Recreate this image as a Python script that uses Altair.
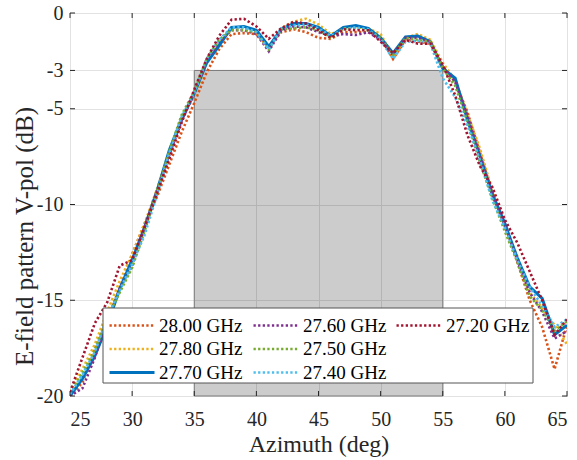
import altair as alt
import pandas as pd

# Azimuth sample points (deg)
azimuth = list(range(25, 66))

# E-field pattern V-pol (dB) per frequency, one value per degree 25..65
gain_2800 = [-20.0, -19.3, -17.5, -16.0, -14.4, -12.6, -11.0, -9.6, -7.9, -6.2, -4.7,
             -3.1, -1.9, -1.1, -1.05, -1.1, -1.8, -1.0, -0.85, -1.0, -1.3,
             -1.35, -1.0, -1.0, -1.0, -1.3, -2.4, -1.4, -1.5, -1.6, -2.8,
             -3.6, -5.2, -7.3, -9.4, -11.0, -13.0, -15.0, -16.4, -18.6, -16.3]
gain_2780 = [-19.8, -18.6, -17.3, -15.6, -14.0, -12.6, -11.0, -9.2, -7.3, -5.4, -4.4,
             -2.6, -1.6, -0.8, -0.75, -1.0, -1.9, -0.8, -0.45, -0.3, -0.6,
             -1.1, -0.85, -0.75, -0.8, -1.1, -2.3, -1.3, -1.1, -1.4, -2.6,
             -3.5, -5.3, -7.1, -9.3, -11.2, -12.7, -14.6, -15.4, -16.3, -17.3]
gain_2770 = [-20.0, -19.1, -17.9, -16.3, -14.4, -12.9, -11.2, -9.3, -7.15, -5.5, -4.2,
             -2.6, -1.7, -0.75, -0.7, -0.9, -1.75, -0.85, -0.55, -0.55, -0.75,
             -1.2, -0.75, -0.65, -0.8, -1.3, -2.1, -1.25, -1.2, -1.5, -2.9,
             -3.4, -5.6, -7.5, -9.5, -11.0, -12.8, -14.3, -14.9, -16.8, -16.3]
gain_2760 = [-20.0, -19.6, -18.0, -16.0, -14.4, -13.2, -11.2, -9.3, -7.4, -5.6, -4.2,
             -2.5, -1.5, -0.9, -0.9, -1.1, -2.0, -0.9, -0.7, -0.75, -1.0,
             -1.2, -1.1, -1.15, -1.0, -1.4, -2.2, -1.3, -1.3, -1.5, -2.8,
             -3.6, -5.4, -7.5, -9.5, -11.1, -12.9, -14.6, -15.6, -17.0, -16.6]
gain_2750 = [-19.8, -18.8, -17.6, -15.9, -14.6, -13.3, -11.4, -9.3, -7.2, -5.3, -4.1,
             -2.4, -1.4, -0.9, -0.9, -1.0, -1.9, -0.85, -0.8, -0.75, -0.9,
             -1.3, -0.8, -0.8, -0.9, -1.3, -2.2, -1.3, -1.4, -1.5, -2.9,
             -3.8, -5.7, -7.8, -9.7, -11.4, -13.0, -14.8, -15.5, -16.6, -16.1]
gain_2740 = [-19.9, -18.9, -17.7, -15.9, -14.5, -13.1, -11.6, -9.5, -7.3, -5.4, -4.2,
             -2.4, -1.4, -0.75, -0.75, -1.0, -1.9, -0.8, -0.65, -0.6, -0.8,
             -1.2, -0.85, -0.75, -0.85, -1.4, -2.4, -1.5, -1.45, -1.6, -3.4,
             -4.4, -5.9, -7.7, -9.8, -11.2, -12.9, -14.3, -15.3, -16.4, -16.0]
gain_2720 = [-19.8, -18.0, -16.2, -15.1, -13.2, -12.9, -11.2, -9.4, -7.6, -5.7, -4.0,
             -2.4, -1.2, -0.35, -0.3, -0.7, -1.35, -0.8, -0.45, -0.55, -0.9,
             -1.3, -0.85, -0.9, -0.9, -1.5, -2.1, -1.4, -1.6, -1.6, -2.7,
             -4.3, -6.4, -8.0, -9.1, -10.8, -12.0, -13.5, -15.0, -16.8, -16.0]

freq_labels = ["28.00 GHz", "27.80 GHz", "27.70 GHz", "27.60 GHz",
               "27.50 GHz", "27.40 GHz", "27.20 GHz"]
series = [gain_2800, gain_2780, gain_2770, gain_2760, gain_2750, gain_2740, gain_2720]
colors = ["#D95319", "#EDB120", "#0072BD", "#7E2F8E", "#77AC30", "#4DBEEE", "#A2142F"]
solid = [False, False, True, False, False, False, False]

# Highlighted sector: azimuth 35..55 deg, level -20..-3 dB
band_x = [35, 55]
band_y = [-20, -3]

x_ticks = [25, 30, 35, 40, 45, 50, 55, 60, 65]
y_ticks = [0, -3, -5, -10, -15, -20]

rows = []
for name, vals in zip(freq_labels, series):
    for az, v in zip(azimuth, vals):
        rows.append({"az": az, "db": v, "freq": name})
df = pd.DataFrame(rows)

FONT = "Liberation Serif"
INK = "#262626"
W, H = 497, 383
DOT = [2.3, 2.3]
SYM = 45  # legend line-sample length in px

x_scale = alt.Scale(domain=[25, 65], nice=False, zero=False)
y_scale = alt.Scale(domain=[-20, 0], nice=False, zero=False)

x_axis = alt.Axis(values=x_ticks, title="Azimuth (deg)", tickSize=0, domain=False,
                  grid=True, gridColor="#e2e2e2", labelFont=FONT, labelFontSize=20,
                  labelColor=INK, labelPadding=13, titleFont=FONT, titleFontSize=24,
                  titleFontWeight="normal", titleColor=INK, titleY=55,
                  titleBaseline="alphabetic")
y_axis = alt.Axis(values=y_ticks, title="E-field pattern V-pol (dB)", tickSize=0,
                  domain=False, grid=True, gridColor="#e2e2e2", labelFont=FONT,
                  labelFontSize=20, labelColor=INK, labelPadding=7,
                  labelExpr="'' + datum.value", titleFont=FONT, titleFontSize=25,
                  titleFontWeight="normal", titleColor=INK, titleX=-38, titleY=223,
                  titleBaseline="alphabetic")

X = alt.X("az:Q", scale=x_scale, axis=x_axis)
Y = alt.Y("db:Q", scale=y_scale, axis=y_axis)

band = alt.Chart(pd.DataFrame({"x0": [band_x[0]], "x1": [band_x[1]],
                               "y0": [band_y[0]], "y1": [band_y[1]]})).mark_rect(
    fill="#000000", fillOpacity=0.2, stroke="#7a7a7a", strokeWidth=1
).encode(
    x=alt.X("x0:Q", scale=x_scale, axis=x_axis), x2="x1:Q",
    y=alt.Y("y0:Q", scale=y_scale, axis=y_axis), y2="y1:Q",
)

# Legend grid: three columns filled top-to-bottom
leg_cols = [38, 182, 325]
leg_rows = [311, 334.5, 358]


def series_layer(i):
    name = freq_labels[i]
    col, row = divmod(i, 3)
    width = 3.0 if solid[i] else 2.6
    leg = dict(orient="none", legendX=leg_cols[col], legendY=leg_rows[row] - SYM / 2,
               title=None, symbolType="stroke", symbolStrokeWidth=width,
               symbolSize=SYM * SYM, symbolOffset=0, labelFont=FONT, labelFontSize=19,
               labelColor="#000000", labelOffset=3, padding=0)
    mark = dict(strokeWidth=width, clip=True, strokeCap="butt")
    if not solid[i]:
        leg["symbolDash"] = DOT
        mark["strokeDash"] = DOT
    return alt.Chart(df[df["freq"] == name]).mark_line(**mark).encode(
        x=X, y=Y,
        color=alt.Color("freq:N",
                        scale=alt.Scale(domain=[name], range=[colors[i]]),
                        legend=alt.Legend(**leg)),
    )


line_layers = [series_layer(i) for i in range(len(freq_labels))]

legend_box = alt.Chart(pd.DataFrame({"k": [0]})).mark_rect(
    fill="white", stroke="#555555", strokeWidth=1
).encode(x=alt.value(33), x2=alt.value(463), y=alt.value(295), y2=alt.value(370))

# Inward tick marks on all four sides of the frame
xt = pd.DataFrame({"v": x_ticks})
yt = pd.DataFrame({"v": y_ticks})
tick_bottom = alt.Chart(xt).mark_rule(color=INK, strokeWidth=1).encode(
    x=alt.X("v:Q", scale=x_scale, axis=x_axis), y=alt.value(H - 5), y2=alt.value(H))
tick_top = alt.Chart(xt).mark_rule(color=INK, strokeWidth=1).encode(
    x=alt.X("v:Q", scale=x_scale, axis=x_axis), y=alt.value(0), y2=alt.value(5))
tick_left = alt.Chart(yt).mark_rule(color=INK, strokeWidth=1).encode(
    y=alt.Y("v:Q", scale=y_scale, axis=y_axis), x=alt.value(0), x2=alt.value(5))
tick_right = alt.Chart(yt).mark_rule(color=INK, strokeWidth=1).encode(
    y=alt.Y("v:Q", scale=y_scale, axis=y_axis), x=alt.value(W - 5), x2=alt.value(W))

chart = alt.layer(
    band, *line_layers, legend_box,
    tick_bottom, tick_top, tick_left, tick_right,
).resolve_scale(color="independent").resolve_legend(color="independent").properties(
    width=W, height=H,
    padding={"left": 70, "top": 13, "right": 10, "bottom": 64},
    autosize=alt.AutoSizeParams(type="none"),
    background="white",
).configure_view(stroke=INK, strokeWidth=1)

chart.save("out.html", embed_options={"renderer": "svg", "actions": False})
